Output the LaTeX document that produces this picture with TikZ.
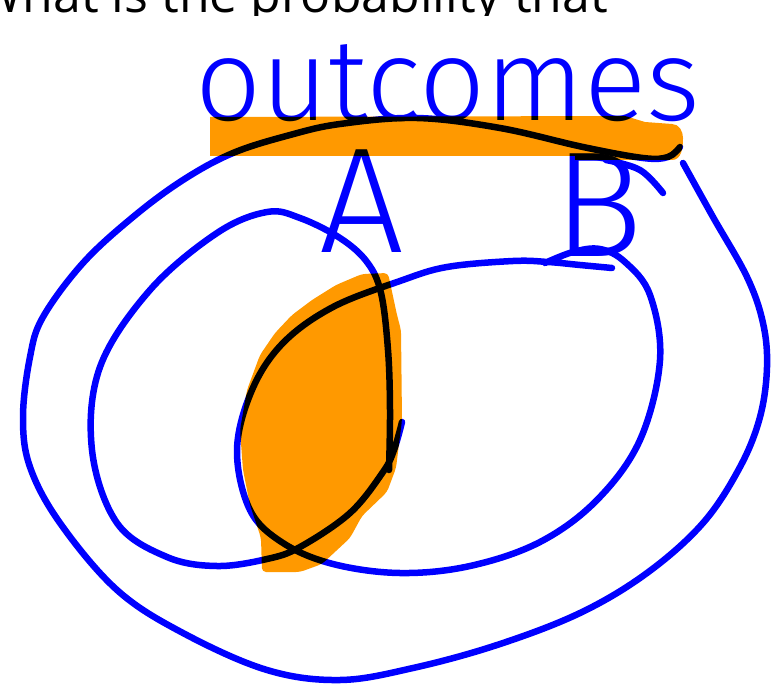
\documentclass[tikz,border=0pt]{standalone}
\usepackage{fontspec}
\setmainfont{Open Sans}
\IfFontExistsTF{Fira Sans Light}{\newfontfamily\handfont{Fira Sans Light}}{\newfontfamily\handfont{Open Sans}}
\definecolor{penblue}{RGB}{0,0,255}
\definecolor{marker}{RGB}{255,153,0}
\tikzset{
    pen/.style={draw=penblue, line width=6.5pt, line cap=round, line join=round},
    highlight/.style={fill=marker, blend mode=multiply},
    handlbl/.style={text=penblue, inner sep=0pt, font=\handfont\fontsize{#1}{#1}\selectfont},
    question/.style={inner sep=0pt, font=\fontsize{50}{60}\selectfont},
}

\begin{document}
\begin{tikzpicture}[x=1pt, y=-1pt]
    \useasboundingbox (0,0) rectangle (781,687);
    % Frage oben (abgeschnitten)
    \begin{scope}
        \clip (0,0) rectangle (781,15.5);
        \node[question, anchor=base east] (quest) at (608,13) {What is the probability that};
    \end{scope}
    % Beschriftungen
    \node[handlbl=116, anchor=base west] (outc) at (195,121) {outcomes};
    \node[handlbl=150, anchor=base] (lblA) at (362,252) {A};
    \node[handlbl=150, anchor=base] (lblB) at (598,256) {B};
    % Ergebnismenge
    \draw[pen] plot[smooth, tension=0.6] coordinates {(683,163) (713,217) (747,277) (763,323) (767,367) (760,417) (740,467) (703,523) (647,573) (580,613) (497,645) (413,668) (340,680) (267,670) (183,633) (117,590) (60,523) (30,467) (23,417) (30,357) (43,317) (83,263) (133,217) (183,180) (233,153) (290,135) (340,124) (417,118) (500,128) (583,147) (643,158) (668,157) (680,147)};
    % Ereignis A
    \draw[pen] plot[smooth, tension=0.6] coordinates {(402,422) (394,450) (383,472) (350,513) (300,547) (267,559) (217,566) (167,557) (117,523) (92,450) (100,367) (150,290) (217,233) (267,212) (300,218) (340,238) (367,262) (381,293) (388,350) (390,410) (389,470)};
    % Ereignis B
    \draw[pen] plot[smooth, tension=0.6] coordinates {(612,268) (580,265) (548,262) (513,261) (447,267) (400,281) (333,307) (283,343) (252,390) (237,450) (250,510) (283,543) (333,564) (400,573) (470,566) (540,542) (597,500) (640,440) (660,360) (650,295) (625,262) (600,249) (573,252) (545,263)};
    \draw[pen] plot[smooth, tension=0.6] coordinates {(606,160) (640,170) (663,193)};
    % Markierungen
    \fill[highlight] (210,117) -- (625,116) -- (645,122) -- (672,124) to[out=0,in=90] (683,138) to[out=-90,in=0] (672,160) -- (575,160) -- (575,156) -- (210,156) -- cycle;
    \fill[highlight, rounded corners=4pt] (362,274) -- (388,273) -- (397,315) -- (401,330) -- (402,420) -- (396,468) -- (387,492) -- (362,516) -- (350,538) -- (322,564) -- (300,572) -- (262,572) -- (261,538) -- (250,505) -- (243,470) -- (240,430) -- (247,390) -- (260,355) -- (275,333) -- (292,315) -- (312,300) -- (336,285) -- cycle;
\end{tikzpicture}
\end{document}
